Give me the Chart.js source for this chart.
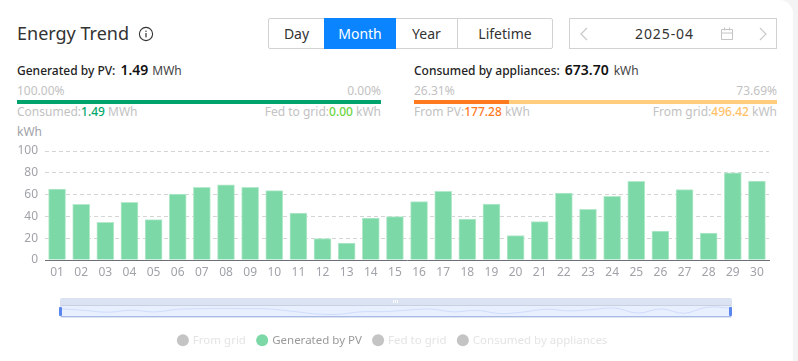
<!DOCTYPE html>
<html><head><meta charset="utf-8">
<script src="https://cdn.jsdelivr.net/npm/chart.js@4/dist/chart.umd.min.js"></script>
<style>
html,body{margin:0;padding:0;background:#f4f4f4;width:798px;height:361px;overflow:hidden;font-family:"Noto Sans",sans-serif}
#card{position:absolute;left:0;top:0;width:793px;height:361px;background:#fff;border-radius:0 14px 0 0}
.t{position:absolute;white-space:nowrap;line-height:16px;font-size:12px}
.g{color:#c2c2c2}.r{text-align:right}
#chart{position:absolute;left:0;top:0}
#slider{position:absolute;left:62px;top:305px}
.seg{position:absolute;top:18px;height:31px;box-sizing:border-box;border:1px solid #d2d2d2;line-height:29px;text-align:center;font-size:14px;color:#333}
.bar{position:absolute;height:4px;top:100px}
.s{position:absolute}
</style></head><body>
<div id="card"></div>
<div class="t" style="left:17px;top:21px;font-size:18px;line-height:24px;color:#333">Energy Trend</div>
<svg class="s" style="left:138px;top:26px" width="16" height="16" viewBox="0 0 16 16"><circle cx="8" cy="8" r="6.6" fill="none" stroke="#333" stroke-width="1.1"/><rect x="7.4" y="7" width="1.2" height="4.4" fill="#333"/><rect x="7.4" y="4.6" width="1.2" height="1.3" fill="#333"/></svg>

<div class="seg" style="left:268px;width:57px;border-radius:2px 0 0 2px">Day</div>
<div class="seg" style="left:324px;width:72px;background:#0a84ff;border-color:#0a84ff;color:#fff">Month</div>
<div class="seg" style="left:396px;width:62px;border-left:none">Year</div>
<div class="seg" style="left:457px;width:96px;border-radius:0 2px 2px 0">Lifetime</div>
<div class="seg" style="left:569px;width:208px;text-align:left;padding-left:65px;letter-spacing:.9px">2025-04</div>
<svg class="s" style="left:578px;top:26px" width="12" height="16"><path d="M9 2 L3 8 L9 14" fill="none" stroke="#c8c8c8" stroke-width="1.2"/></svg>
<svg class="s" style="left:757px;top:26px" width="12" height="16"><path d="M3 2 L9 8 L3 14" fill="none" stroke="#c8c8c8" stroke-width="1.2"/></svg>
<svg class="s" style="left:720px;top:26px" width="14" height="15"><path d="M1.5 3.5h11v10h-11z M1.5 7h11 M4.5 1.5v3 M9.5 1.5v3" fill="none" stroke="#c4c4c4" stroke-width="1"/></svg>

<div class="t" style="left:17px;top:62px;color:#222;font-weight:500">Generated by PV:<span style="font-size:14px;font-weight:600;color:#111;margin:0 4px 0 5px">1.49</span><span style="color:#444;font-weight:400">MWh</span></div>
<div class="t g" style="left:17px;top:83px">100.00%</div>
<div class="t g r" style="right:417px;top:83px">0.00%</div>
<div class="bar" style="left:17px;width:364px;background:#00a36c"></div>
<div class="t g" style="left:17px;top:104px">Consumed:<span style="color:#00a86b;font-weight:500">1.49</span> MWh</div>
<div class="t g r" style="right:417px;top:104px">Fed to grid:<span style="color:#6bd53f;font-weight:500">0.00</span> kWh</div>

<div class="t" style="left:414px;top:62px;color:#222;font-weight:500">Consumed by appliances:<span style="font-size:14px;font-weight:600;color:#111;margin:0 5px 0 5px">673.70</span><span style="color:#444;font-weight:400">kWh</span></div>
<div class="t g" style="left:414px;top:83px">26.31%</div>
<div class="t g r" style="right:21px;top:83px">73.69%</div>
<div class="bar" style="left:414px;width:95px;background:#ff7a1f"></div>
<div class="bar" style="left:509px;width:268px;background:#ffcd7d"></div>
<div class="t g" style="left:414px;top:104px">From PV:<span style="color:#ff7a1f;font-weight:500">177.28</span> kWh</div>
<div class="t g r" style="right:21px;top:104px">From grid:<span style="color:#ffc266;font-weight:500">496.42</span> kWh</div>
<div class="t" style="left:17px;top:124px;color:#a0a3a9">kWh</div>

<canvas id="chart" width="798" height="361"></canvas>

<div class="s" style="left:60px;top:298px;width:672px;height:20px;background:#dbe2f1;border-radius:2px"></div>
<div class="s" style="left:61px;top:305px;width:670px;height:12px;box-sizing:border-box;background:#e8effe;border-top:1px solid #c9d0e2;border-bottom:1px solid #a9bbe2"></div>
<div class="s" style="left:393px;top:300px;width:6px;height:3px;background:repeating-linear-gradient(90deg,#fff 0 1px,#dbe2f1 1px 2px)"></div>
<canvas id="slider" width="668" height="11"></canvas>
<div class="s" style="left:59px;top:307px;width:3px;height:9px;background:#5b86ee;border-radius:1px"></div>
<div class="s" style="left:729px;top:307px;width:3px;height:9px;background:#5b86ee;border-radius:1px"></div>

<script>
const days = ["01","02","03","04","05","06","07","08","09","10","11","12","13","14","15","16","17","18","19","20","21","22","23","24","25","26","27","28","29","30"];
const generatedByPV = [65,51,34.5,53,37,60.5,66.7,69,66.7,63.6,43,19.6,15.6,38.5,39.8,53.5,63,37.6,51.4,22.3,35.2,61.5,46.5,58.4,72.2,26.6,64.5,24.8,80,72.5];
const yTicks = [0,20,40,60,80,100];
const seriesNames = ["From grid","Generated by PV","Fed to grid","Consumed by appliances"];

const tickCol = "#a0a3a9";
new Chart(document.getElementById("chart"), {
  type: "bar",
  data: { labels: days, datasets: [
    {label: seriesNames[0], data: [], hidden: true, backgroundColor: "#c4c4c4"},
    {label: seriesNames[1], data: generatedByPV, backgroundColor: "#7dd8a7", borderColor: "#b5eacc", borderWidth: 1, borderSkipped: "bottom", barThickness: 17, grouped: false},
    {label: seriesNames[2], data: [], hidden: true, backgroundColor: "#c4c4c4"},
    {label: seriesNames[3], data: [], hidden: true, backgroundColor: "#c4c4c4"}
  ]},
  options: {
    responsive: false, animation: false,
    layout: {padding: {top: 151, right: 29, left: 17, bottom: 5}},
    plugins: {
      tooltip: {enabled: false},
      legend: {
        position: "bottom", align: "center",
        labels: {
          usePointStyle: true, pointStyle: "circle", boxWidth: 8.5, boxHeight: 8.5, padding: 12,
          font: {family: '"Noto Sans",sans-serif', size: 11.5},
          generateLabels(c) {
            return c.data.datasets.map((d, i) => ({
              text: d.label, datasetIndex: i, hidden: false, pointStyle: "circle", lineWidth: 0,
              strokeStyle: "transparent",
              fillStyle: d.hidden ? "#c4c4c4" : "#7dd8a7",
              fontColor: d.hidden ? "#e4e4e4" : "#9a9a9a"
            }));
          }
        }
      }
    },
    scales: {
      x: {
        offset: true,
        grid: {display: false, drawTicks: false},
        border: {color: "#6e7079", width: 1},
        ticks: {color: tickCol, font: {family: '"Noto Sans",sans-serif', size: 12}, padding: 5, maxRotation: 0, autoSkip: false},
        afterFit(s) { s.height = 62.5; }
      },
      y: {
        min: 0, max: 100,
        afterBuildTicks(s) { s.ticks = yTicks.map(v => ({value: v})); },
        grid: {color: c => c.tick.value === 0 ? "transparent" : "#d4d4d4", drawTicks: false},
        border: {display: false, dash: [4, 3]},
        ticks: {color: tickCol, font: {family: '"Noto Sans",sans-serif', size: 12}, padding: 7},
        afterFit(s) { s.width = 28; }
      }
    }
  }
});

new Chart(document.getElementById("slider"), {
  type: "line",
  data: { labels: days, datasets: [{data: generatedByPV, borderColor: "#cfdcfb", borderWidth: 1, pointRadius: 0, tension: 0.4, fill: false}]},
  options: {
    responsive: false, animation: false,
    layout: {padding: 0},
    plugins: {legend: {display: false}, tooltip: {enabled: false}},
    scales: {x: {display: false}, y: {display: false, min: 0, max: 100}}
  }
});
</script>
</body></html>
